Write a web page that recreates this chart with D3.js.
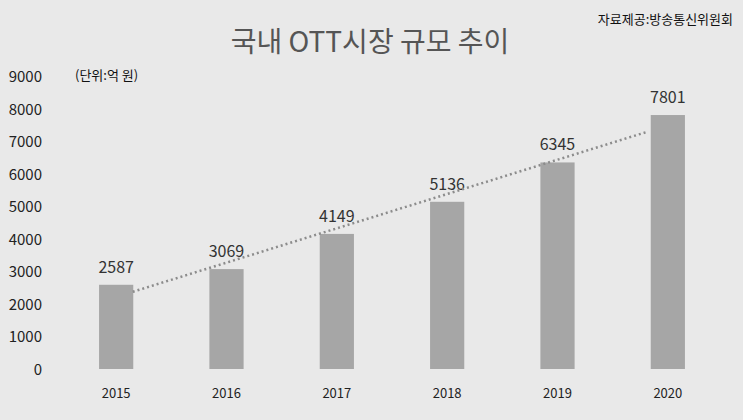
<!DOCTYPE html>
<html><head><meta charset="utf-8">
<script src="https://cdn.jsdelivr.net/npm/d3@7"></script>
<style>body{margin:0;background:#e9e9e9}svg{display:block}</style>
</head><body><svg id="c" width="743" height="420"></svg>
<script>
const years = ["2015","2016","2017","2018","2019","2020"];
const values = [2587,3069,4149,5136,6345,7801];
const yTicks = [0,1000,2000,3000,4000,5000,6000,7000,8000,9000];
const title = "국내 OTT시장 규모 추이";
const source = "자료제공:방송통신위원회";
const unit = "(단위:억 원)";

const svg = d3.select("#c");
const font = "'Noto Sans CJK KR','Noto Sans',sans-serif";
svg.append("rect").attr("width",743).attr("height",420).attr("fill","#e9e9e9");
const x = d3.scaleBand().domain(years).range([61,723]).paddingInner(0.69).paddingOuter(0.345);
const y = d3.scaleLinear().domain([0,9000]).range([369,76]);

svg.selectAll(".yt").data(yTicks).enter().append("text")
 .attr("x",42).attr("y",d=>y(d)+6).attr("text-anchor","end")
 .attr("font-family",font).attr("font-size",15).attr("fill","#222").text(d=>d);

svg.selectAll(".bar").data(values).enter().append("rect")
 .attr("x",(d,i)=>x(years[i])).attr("width",x.bandwidth())
 .attr("y",d=>y(d)).attr("height",d=>y(0)-y(d)).attr("fill","#a6a6a6");

svg.selectAll(".vl").data(values).enter().append("text")
 .attr("x",(d,i)=>x(years[i])+x.bandwidth()/2).attr("y",d=>y(d)-12)
 .attr("text-anchor","middle").attr("font-family",font).attr("font-size",16).attr("fill","#333").text(d=>d);

svg.selectAll(".xl").data(years).enter().append("text")
 .attr("x",d=>x(d)+x.bandwidth()/2).attr("y",398).attr("text-anchor","middle")
 .attr("font-family",font).attr("font-size",13).attr("fill","#222").text(d=>d);

// linear trend
const n = values.length, mx=(n-1)/2, my=d3.mean(values);
const slope = d3.sum(values,(v,i)=>(i-mx)*(v-my))/d3.sum(values,(v,i)=>(i-mx)**2);
const fx = i => my + slope*(i-mx);
const cx = i => x(years[0]) + x.bandwidth()/2 + i*x.step();
const t0=0.15, t1=4.8;
svg.append("line").attr("x1",cx(t0)).attr("y1",y(fx(t0))).attr("x2",cx(t1)).attr("y2",y(fx(t1)))
 .attr("stroke","#8c8c8c").attr("stroke-width",2.5).attr("stroke-dasharray","2,3");

svg.append("text").attr("x",370).attr("y",52).attr("text-anchor","middle")
 .attr("font-family",font).attr("font-size",28).attr("fill","#555").text(title);
svg.append("text").attr("x",733).attr("y",24).attr("text-anchor","end")
 .attr("font-family",font).attr("font-size",13).attr("fill","#111").text(source);
svg.append("text").attr("x",75).attr("y",80)
 .attr("font-family",font).attr("font-size",13).attr("fill","#111").text(unit);
</script></body></html>
